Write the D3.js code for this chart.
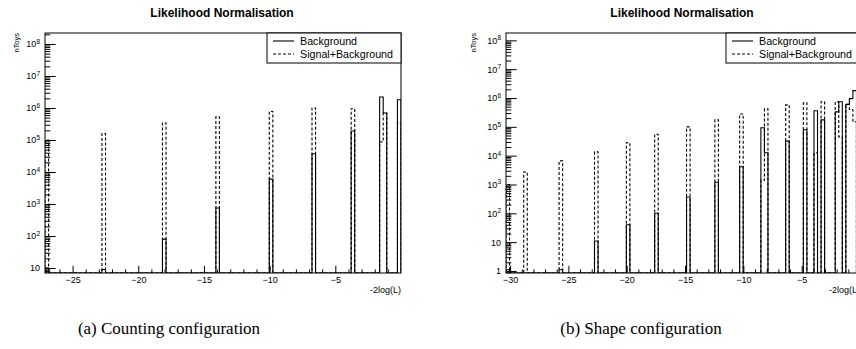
<!DOCTYPE html>
<html>
<head>
<meta charset="utf-8">
<script src="https://cdn.jsdelivr.net/npm/d3@7"></script>
<style>
  body { margin: 0; background: #fff; }
  svg { display: block; }
  text { font-family: "Liberation Sans", Arial, Helvetica, sans-serif; fill: #000; }
  .caption { font-family: "Liberation Serif", "Times New Roman", serif; }
</style>
</head>
<body>
<svg id="chart" width="856" height="349"></svg>
<script>
// (a) counting configuration: bin centres in -2log(L), entries per bin
const countX = [-26.96, -22.62, -18.02, -13.96, -9.89, -6.64, -3.66, -1.49, -1.22, -0.14];
const countBkg = [10, 9, 80, 750, 6000, 37000, 190000, 2200000, 700000, 1800000];
const countSig = [100000, 160000, 340000, 530000, 780000, 1000000, 950000, 87000, 700000, 340000];

// (b) shape configuration
const shapeX = [-30.20, -28.68, -25.65, -22.61, -19.88, -17.45, -14.72, -12.29, -10.17, -8.35,
  -8.04, -6.22, -4.70, -3.79, -3.19, -1.97, -1.67, -1.06, -0.76, -0.46];
const shapeBkg = [1.1, 0, 1.1, 11, 40, 100, 370, 1200, 4100, 93000,
  12600, 32000, 79000, 360000, 175000, 330000, 740000, 600000, 950000, 1800000];
const shapeSig = [1000, 2700, 6600, 13500, 28000, 55000, 100000, 175000, 280000, 1400,
  420000, 580000, 680000, 12600, 740000, 740000, 45000, 600000, 400000, 150000];

const countXTicks = [-25, -20, -15, -10, -5];
const shapeXTicks = [-30, -25, -20, -15, -10, -5];
const countYTicks = [10, 1e2, 1e3, 1e4, 1e5, 1e6, 1e7, 1e8];
const shapeYTicks = [1, 10, 1e2, 1e3, 1e4, 1e5, 1e6, 1e7, 1e8];

const seriesNames = ['Background', 'Signal+Background'];
const captions = ['(a) Counting configuration', '(b) Shape configuration'];
const plotTitle = 'Likelihood Normalisation';

const svg = d3.select('#chart');

// fill the sparse entries into a fixed-width histogram
function binned(xs, vals, domain, nBins) {
  const w = (domain[1] - domain[0]) / nBins;
  const counts = new Array(nBins).fill(0);
  xs.forEach((xv, i) => {
    const k = Math.floor((xv - domain[0]) / w);
    if (k >= 0 && k < nBins) counts[k] += vals[i];
  });
  return counts.map((c, k) => ({ lo: domain[0] + k * w, hi: domain[0] + (k + 1) * w, c }));
}

function labelPow(sel) {
  sel.each(function (d) {
    const t = d3.select(this).text(null);
    const e = Math.round(Math.log10(d));
    if (e === 0) { t.text('1'); return; }
    if (e === 1) { t.text('10'); return; }
    t.append('tspan').text('10');
    t.append('tspan').attr('dy', -3.5).style('font-size', '6.5px').text(e);
  });
}

function drawPanel(p) {
  const g = svg.append('g').attr('class', 'panel-' + p.id);
  const x = d3.scaleLinear().domain(p.xDomain).range([p.left, p.right]);
  const y = d3.scaleLog().domain(p.yDomain).range([p.bottom, p.top]);
  const ymin = p.yDomain[0];

  g.append('clipPath').attr('id', 'clip-' + p.id)
    .append('rect')
    .attr('x', p.left).attr('y', p.top)
    .attr('width', p.right - p.left).attr('height', p.bottom - p.top);

  // histograms as ROOT-style step outlines
  const line = d3.line().x((d) => x(d[0])).y((d) => y(d[1]));
  const hists = g.append('g').attr('clip-path', `url(#clip-${p.id})`);
  p.series.forEach((s) => {
    const bins = binned(p.xs, s.values, p.xDomain, p.nBins);
    const pts = [[p.xDomain[0], ymin]];
    bins.forEach((b) => {
      const v = Math.max(b.c, ymin);
      pts.push([b.lo, v], [b.hi, v]);
    });
    pts.push([p.xDomain[1], ymin]);
    hists.append('path')
      .attr('d', line(pts))
      .attr('fill', 'none')
      .attr('stroke', '#000')
      .attr('stroke-width', 1.1)
      .attr('stroke-dasharray', s.dash);
  });

  // x axis, ticks inward
  const xMinor = d3.range(Math.ceil(p.xDomain[0]), Math.floor(p.xDomain[1]) + (p.xDomain[1] % 1 === 0 ? 0 : 1))
    .filter((v) => v % 5 !== 0 && v < p.xDomain[1]);
  g.append('g').attr('transform', `translate(0,${p.bottom})`)
    .call(d3.axisBottom(x).tickValues(xMinor).tickSizeInner(-3.6).tickSizeOuter(0).tickFormat(''))
    .call((a) => a.select('.domain').remove());
  g.append('g').attr('transform', `translate(0,${p.bottom})`)
    .call(d3.axisBottom(x).tickValues(p.xTicks).tickSizeInner(-7.2).tickSizeOuter(0)
      .tickPadding(4).tickFormat(d3.format('d')))
    .call((a) => a.select('.domain').remove())
    .call((a) => a.selectAll('text').style('font-size', '9px'));

  // y axis, log with minor ticks 2..9
  const yMinor = [];
  for (let e = Math.floor(Math.log10(p.yDomain[0])); e <= Math.ceil(Math.log10(p.yDomain[1])); e++) {
    for (let m = 2; m <= 9; m++) {
      const v = m * Math.pow(10, e);
      if (v > p.yDomain[0] && v < p.yDomain[1]) yMinor.push(v);
    }
  }
  g.append('g').attr('transform', `translate(${p.left},0)`)
    .call(d3.axisLeft(y).tickValues(yMinor).tickSizeInner(-5.3).tickSizeOuter(0).tickFormat(''))
    .call((a) => a.select('.domain').remove());
  g.append('g').attr('transform', `translate(${p.left},0)`)
    .call(d3.axisLeft(y).tickValues(p.yTicks).tickSizeInner(-10.7).tickSizeOuter(0).tickPadding(5))
    .call((a) => a.select('.domain').remove())
    .call((a) => a.selectAll('text').style('font-size', '9px').call(labelPow));

  g.selectAll('.tick line').attr('stroke', '#000');

  // frame
  g.append('rect')
    .attr('x', p.left).attr('y', p.top)
    .attr('width', p.right - p.left).attr('height', p.bottom - p.top)
    .attr('fill', 'none').attr('stroke', '#000').attr('stroke-width', 1);

  // titles
  g.append('text')
    .attr('x', (p.left + p.right) / 2 - 1).attr('y', 17)
    .attr('text-anchor', 'middle')
    .style('font-size', '12px').style('font-weight', 'bold')
    .text(plotTitle);
  g.append('text')
    .attr('transform', `translate(${p.yTitleX},${p.top}) rotate(-90)`)
    .attr('text-anchor', 'end')
    .style('font-size', '7.5px')
    .text('nToys');
  g.append('text')
    .attr('x', p.right).attr('y', 293)
    .attr('text-anchor', 'end')
    .style('font-size', '9px')
    .text('-2log(L)');

  // legend
  const leg = g.append('g').attr('transform', `translate(${p.right - 134},${p.top})`);
  leg.append('rect')
    .attr('width', 134).attr('height', 30)
    .attr('fill', '#fff').attr('stroke', '#000').attr('stroke-width', 1);
  p.series.forEach((s, i) => {
    const ly = 8 + i * 13;
    leg.append('line')
      .attr('x1', 6).attr('x2', 27).attr('y1', ly).attr('y2', ly)
      .attr('stroke', '#000').attr('stroke-width', 1.1)
      .attr('stroke-dasharray', s.dash);
    leg.append('text')
      .attr('x', 33).attr('y', ly + 4)
      .style('font-size', '10.7px')
      .text(s.name);
  });

  // caption
  svg.append('text')
    .attr('class', 'caption')
    .attr('x', p.captionX).attr('y', 334)
    .attr('text-anchor', 'middle')
    .style('font-size', '17px')
    .text(p.caption);
}

drawPanel({
  id: 'a', xs: countX, left: 45, right: 401, top: 33, bottom: 273,
  xDomain: [-27.1, 0], yDomain: [7, 2.2e8], nBins: 100,
  xTicks: countXTicks, yTicks: countYTicks, yTitleX: 19, captionX: 169, caption: captions[0],
  series: [
    { name: seriesNames[0], values: countBkg, dash: null },
    { name: seriesNames[1], values: countSig, dash: '3,2' },
  ],
});

drawPanel({
  id: 'b', xs: shapeX, left: 506, right: 860, top: 33, bottom: 273,
  xDomain: [-30.35, 0], yDomain: [0.85, 1.8e8], nBins: 100,
  xTicks: shapeXTicks, yTicks: shapeYTicks, yTitleX: 476, captionX: 641, caption: captions[1],
  series: [
    { name: seriesNames[0], values: shapeBkg, dash: null },
    { name: seriesNames[1], values: shapeSig, dash: '3,2' },
  ],
});
</script>
</body>
</html>
